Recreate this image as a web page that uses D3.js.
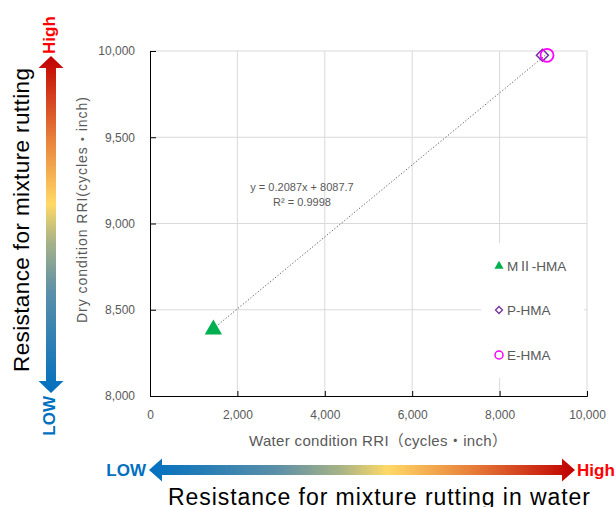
<!DOCTYPE html>
<html><head><meta charset="utf-8">
<script src="https://cdn.jsdelivr.net/npm/d3@7"></script>
<style>body{margin:0;background:#fff}svg{display:block}</style>
</head><body><svg id="c" width="616" height="507"></svg>
<script>
const seriesNames = ["MⅡ-HMA", "P-HMA", "E-HMA"];
const waterRRI = [1450, 8980, 9085];
const dryRRI = [8385, 9975, 9975];
const xTicks = [0, 2000, 4000, 6000, 8000, 10000];
const yTicks = [8000, 8500, 9000, 9500, 10000];
const trendSlope = 0.2087, trendIntercept = 8087.7;
const trendLabels = ["y = 0.2087x + 8087.7", "R² = 0.9998"];

const svg = d3.select("#c");
const FONT = "'Liberation Sans', 'Noto Sans CJK JP', sans-serif";
const x = d3.scaleLinear().domain([0, 10000]).range([150, 587]);
const y = d3.scaleLinear().domain([8000, 10000]).range([396, 51]);
const grey = "#595959";

// gridlines
svg.append("g").selectAll("line").data(xTicks.slice(1)).join("line")
  .attr("x1", d => x(d)).attr("x2", d => x(d)).attr("y1", y(8000)).attr("y2", y(10000))
  .attr("stroke", "#d9d9d9").attr("stroke-width", 1);
svg.append("g").selectAll("line").data(yTicks.slice(1)).join("line")
  .attr("x1", x(0)).attr("x2", x(10000)).attr("y1", d => y(d)).attr("y2", d => y(d))
  .attr("stroke", "#d9d9d9").attr("stroke-width", 1);

// axes
const xAxis = d3.axisBottom(x).tickValues(xTicks).tickSize(-5).tickPadding(14).tickFormat(d3.format(","));
const gx = svg.append("g").attr("transform", `translate(0,${y(8000)})`).call(xAxis);
const yAxis = d3.axisLeft(y).tickValues(yTicks).tickSize(-6).tickPadding(15).tickFormat(d3.format(","));
const gy = svg.append("g").attr("transform", `translate(${x(0)},0)`).call(yAxis);
[gx, gy].forEach(g => {
  g.select(".domain").attr("stroke", "#000");
  g.selectAll(".tick line").attr("stroke", "#000");
  g.selectAll("text").attr("fill", grey).attr("font-size", 12).attr("font-family", FONT);
});

// trendline
const xmin = d3.min(waterRRI), xmax = d3.max(waterRRI);
svg.append("line")
  .attr("x1", x(xmin)).attr("y1", y(trendSlope * xmin + trendIntercept))
  .attr("x2", x(xmax)).attr("y2", y(trendSlope * xmax + trendIntercept))
  .attr("stroke", grey).attr("stroke-width", 1).attr("stroke-dasharray", "1.2,2");
svg.append("g").selectAll("text").data(trendLabels).join("text")
  .attr("x", 302).attr("y", (d, i) => 191 + i * 15).attr("text-anchor", "middle")
  .attr("font-size", 11).attr("font-family", FONT).attr("fill", grey).text(d => d);

// markers
function drawMarker(g, i, s) {
  if (i === 0) {
    g.append("path").attr("d", d3.symbol(d3.symbolTriangle, s * s * 0.45)())
      .attr("fill", "#00b050");
  } else if (i === 1) {
    g.append("path").attr("d", `M0,${-s/2}L${s/2},0L0,${s/2}L${-s/2},0Z`)
      .attr("fill", "none").attr("stroke", "#7030a0").attr("stroke-width", s > 10 ? 1.5 : 1.3);
  } else {
    g.append("circle").attr("r", s / 2).attr("fill", "none").attr("stroke", "#ff00ff").attr("stroke-width", s > 10 ? 1.8 : 1.5);
  }
}
const markerSizes = [17, 12, 13];
seriesNames.forEach((n, i) => {
  const g = svg.append("g").attr("transform", `translate(${x(waterRRI[i])},${y(dryRRI[i])})`);
  drawMarker(g, i, markerSizes[i]);
});

// legend
svg.append("rect").attr("x", 481).attr("y", 243).attr("width", 103).attr("height", 135).attr("fill", "#fff");
const legendY = [266, 310, 355];
const legendMarkerSizes = [9, 7, 8];
seriesNames.forEach((n, i) => {
  const g = svg.append("g").attr("transform", `translate(499,${legendY[i]})`);
  drawMarker(g, i, legendMarkerSizes[i]);
  svg.append("text").attr("x", 507).attr("y", legendY[i] + 5).attr("font-size", 13.5)
    .attr("font-family", FONT).attr("fill", grey).text(n);
});

// axis titles
svg.append("text").attr("x", 378).attr("y", 446).attr("text-anchor", "middle")
  .attr("font-size", 15).attr("font-family", FONT).attr("fill", grey)
  .attr("textLength", 258).attr("lengthAdjust", "spacing")
  .text("Water condition RRI（cycles・inch）");
svg.append("text").attr("transform", "translate(87,210) rotate(-90)").attr("text-anchor", "middle")
  .attr("font-size", 14).attr("font-family", FONT).attr("fill", grey)
  .attr("textLength", 226).attr("lengthAdjust", "spacing")
  .text("Dry condition RRI(cycles・inch)");

// gradients
const defs = svg.append("defs");
const stops = [[0, "#0070c0"], [0.3, "#5b8fa8"], [0.45, "#a8b385"], [0.56, "#ffd966"], [0.75, "#e8823c"], [1, "#c00000"]];
const gh = defs.append("linearGradient").attr("id", "gh").attr("x1", 0).attr("x2", 1).attr("y1", 0).attr("y2", 0);
stops.forEach(s => gh.append("stop").attr("offset", s[0]).attr("stop-color", s[1]));
const gv = defs.append("linearGradient").attr("id", "gv").attr("x1", 0).attr("x2", 0).attr("y1", 1).attr("y2", 0);
stops.forEach(s => gv.append("stop").attr("offset", s[0]).attr("stop-color", s[1]));

// horizontal arrow
{
  const x0 = 149, x1 = 575, cy = 470, hw = 5, hh = 11.5, hl = 13;
  svg.append("path").attr("fill", "url(#gh)").attr("d",
    `M${x0},${cy}L${x0+hl},${cy-hh}L${x0+hl},${cy-hw}L${x1-hl},${cy-hw}L${x1-hl},${cy-hh}L${x1},${cy}L${x1-hl},${cy+hh}L${x1-hl},${cy+hw}L${x0+hl},${cy+hw}L${x0+hl},${cy+hh}Z`);
}
// vertical arrow
{
  const y0 = 56, y1 = 393, cx = 51, hw = 5, hh = 12.5, hl = 12;
  svg.append("path").attr("fill", "url(#gv)").attr("d",
    `M${cx},${y0}L${cx+hh},${y0+hl}L${cx+hw},${y0+hl}L${cx+hw},${y1-hl}L${cx+hh},${y1-hl}L${cx},${y1}L${cx-hh},${y1-hl}L${cx-hw},${y1-hl}L${cx-hw},${y0+hl}L${cx-hh},${y0+hl}Z`);
}

// Low/High labels
const bold = (sel) => sel.attr("font-family", FONT).attr("font-weight", "bold").attr("font-size", 17);
bold(svg.append("text").attr("x", 146).attr("y", 476).attr("text-anchor", "end").attr("fill", "#0070c0").text("LOW"));
bold(svg.append("text").attr("x", 577).attr("y", 476).attr("fill", "#ff0000").text("High"));
bold(svg.append("text").attr("transform", "translate(55,54) rotate(-90)").attr("fill", "#ff0000").text("High"));
bold(svg.append("text").attr("transform", "translate(55,396) rotate(-90)").attr("text-anchor", "end").attr("fill", "#0070c0").text("LOW"));

// big titles
svg.append("text").attr("transform", "translate(29,220) rotate(-90)").attr("text-anchor", "middle")
  .attr("font-size", 22.5).attr("font-family", FONT).attr("fill", "#000")
  .attr("textLength", 304).attr("lengthAdjust", "spacing").text("Resistance for mixture rutting");
svg.append("text").attr("x", 379).attr("y", 505).attr("text-anchor", "middle")
  .attr("font-size", 23).attr("font-family", FONT).attr("fill", "#000")
  .attr("textLength", 422).attr("lengthAdjust", "spacing").text("Resistance for mixture rutting in water");
</script></body></html>
